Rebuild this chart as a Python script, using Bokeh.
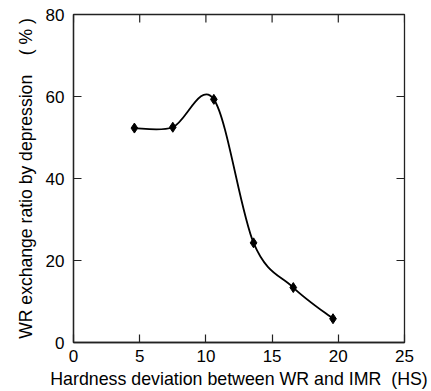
import math
from bokeh.plotting import figure
from bokeh.models import FixedTicker, Range1d
from bokeh.embed import file_html
from bokeh.resources import INLINE

# data
hardness_dev = [4.6, 7.5, 10.6, 13.6, 16.6, 19.6]
exchange_ratio = [52.3, 52.5, 59.3, 24.3, 13.4, 5.8]
x_ticks = [0, 5, 10, 15, 20, 25]
y_ticks = [0, 20, 40, 60, 80]
x_min, x_max = 0, 25
y_min, y_max = 0, 80

# smooth curve (Catmull-Rom style Bezier segments through the data points)
n = len(hardness_dev)
x0, y0, x1, y1, cx0, cy0, cx1, cy1 = [], [], [], [], [], [], [], []
for i in range(n - 1):
    pm = max(i - 1, 0)
    pp = min(i + 2, n - 1)
    xa, ya = hardness_dev[i], exchange_ratio[i]
    xb, yb = hardness_dev[i + 1], exchange_ratio[i + 1]
    x0.append(xa); y0.append(ya); x1.append(xb); y1.append(yb)
    cx0.append(xa + (xb - hardness_dev[pm]) / 6.0)
    cy0.append(ya + (yb - exchange_ratio[pm]) / 6.0)
    cx1.append(xb - (hardness_dev[pp] - xa) / 6.0)
    cy1.append(yb - (exchange_ratio[pp] - ya) / 6.0)

FONT = "Liberation Sans"
LINE = "#222222"
NB = "\u00a0"

p = figure(width=431, height=391, output_backend="svg", toolbar_location=None,
           x_range=Range1d(x_min, x_max), y_range=Range1d(y_min, y_max),
           min_border_left=73, min_border_right=27, min_border_top=14, min_border_bottom=48,
           x_axis_label="Hardness deviation between WR and IMR" + NB * 2 + "(HS)",
           y_axis_label="WR exchange ratio by depression" + NB * 4 + "(" + NB + "%" + NB + ")")
p.outline_line_color = LINE
p.outline_line_width = 1.3
p.xgrid.visible = False
p.ygrid.visible = False
p.background_fill_color = "white"
p.border_fill_color = "white"

for ax, ticks in ((p.xaxis[0], x_ticks), (p.yaxis[0], y_ticks)):
    ax.ticker = FixedTicker(ticks=ticks)
    ax.major_tick_in = 8
    ax.major_tick_out = 0
    ax.minor_tick_line_color = None
    ax.axis_line_color = LINE
    ax.axis_line_width = 1.3
    ax.major_tick_line_color = LINE
    ax.major_tick_line_width = 1.2
    ax.major_label_text_font = FONT
    ax.major_label_text_font_size = "17px"
    ax.major_label_text_color = "black"
    ax.axis_label_text_font = FONT
    ax.axis_label_text_font_style = "normal"
    ax.axis_label_text_color = "black"

p.xaxis[0].axis_label_text_font_size = "17.8px"
p.yaxis[0].axis_label_text_font_size = "17.6px"
p.xaxis[0].major_label_standoff = 7
p.xaxis[0].axis_label_standoff = 4
p.yaxis[0].major_label_standoff = 9
p.yaxis[0].axis_label_standoff = 7

# inward ticks on the top and right frame edges
p.ray(x=x_ticks, y=[y_max] * len(x_ticks), length=8, length_units="screen",
      angle=-math.pi / 2, line_color=LINE, line_width=1.2)
p.ray(x=[x_max] * len(y_ticks), y=y_ticks, length=8, length_units="screen",
      angle=math.pi, line_color=LINE, line_width=1.2)

p.bezier(x0=x0, y0=y0, x1=x1, y1=y1, cx0=cx0, cy0=cy0, cx1=cx1, cy1=cy1,
         line_color="black", line_width=1.8)
p.scatter(hardness_dev, exchange_ratio, marker="diamond", size=10,
          fill_color="black", line_color="black")

open("out.html", "w").write(file_html(p, INLINE))
